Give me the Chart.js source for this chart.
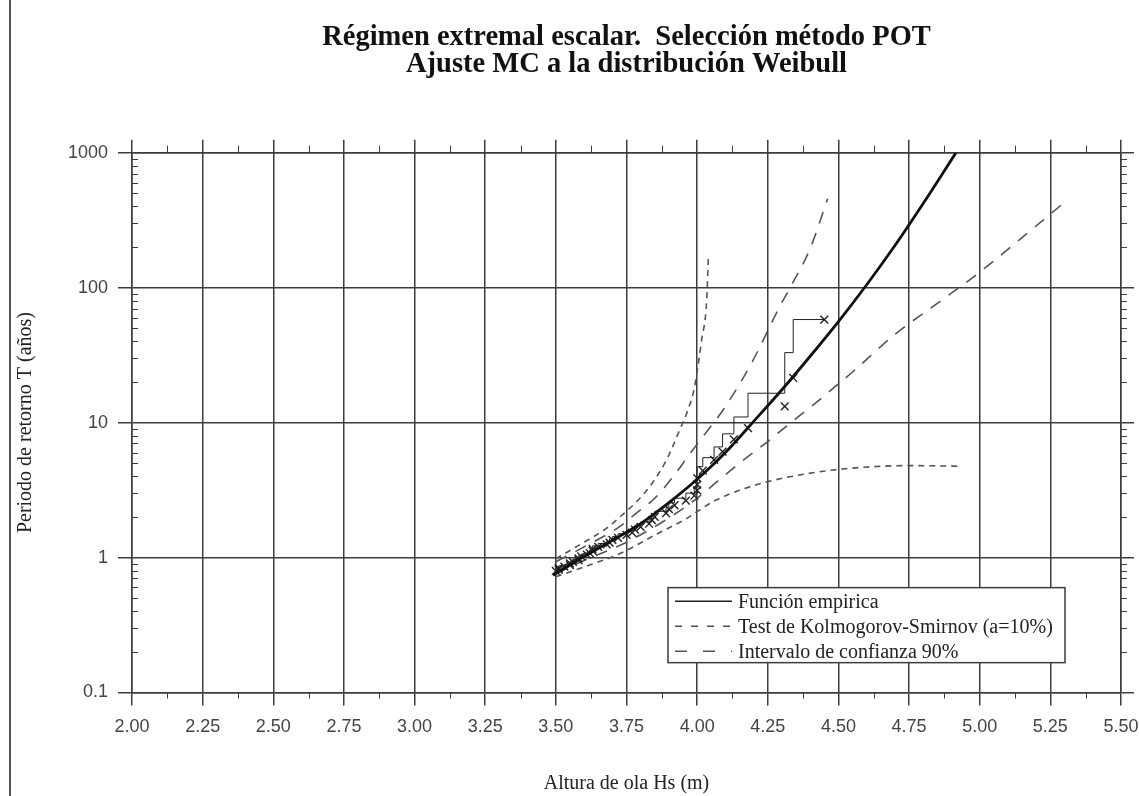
<!DOCTYPE html>
<html>
<head>
<meta charset="utf-8">
<script src="https://cdn.jsdelivr.net/npm/chart.js@4.4.1/dist/chart.umd.min.js"></script>
<style>
  html, body { margin: 0; padding: 0; background: #fff; }
  #wrap { position: relative; width: 1139px; height: 796px; }
  #edge { position: absolute; left: 9px; top: 0; width: 2px; height: 796px; background: #555; }
</style>
</head>
<body>
<div id="wrap">
  <canvas id="chart" width="1139" height="796"></canvas>
  <div id="edge"></div>
</div>
<script>
// Textos
const title1 = 'Régimen extremal escalar.  Selección método POT';
const title2 = 'Ajuste MC a la distribución Weibull';
const xTitle = 'Altura de ola Hs (m)';
const yTitle = 'Periodo de retorno T (años)';
const legendLabels = ['Función empirica', 'Test de Kolmogorov-Smirnov (a=10%)', 'Intervalo de confianza 90%'];

// Eje Y (logaritmico)
const yTicks = [0.1, 1, 10, 100, 1000];
const yTickLabels = ['0.1', '1', '10', '100', '1000'];

// Ajuste Weibull (curva gruesa)
const fitHs = [3.49, 3.55, 3.60, 3.70, 3.75, 3.80, 3.90, 4.00, 4.10, 4.20, 4.30, 4.40, 4.50, 4.60, 4.70, 4.80, 4.916];
const fitT  = [0.74, 0.88, 1.02, 1.34, 1.54, 1.78, 2.55, 3.8, 6.0, 10.2, 17.5, 31, 56, 105, 205, 420, 1000];

// Datos POT (cruces)
const sampleHs = [3.50, 3.51, 3.51, 3.53, 3.55, 3.55, 3.56, 3.58, 3.58, 3.59,
                  3.61, 3.62, 3.63, 3.63, 3.65, 3.68, 3.69, 3.70, 3.72, 3.75,
                  3.77, 3.78, 3.80, 3.83, 3.84, 3.85, 3.89, 3.90, 3.92, 3.96,
                  3.99, 4.00, 4.00, 4.00, 4.02, 4.06, 4.09, 4.13, 4.18, 4.31,
                  4.34, 4.45];
const sampleT  = [0.795, 0.815, 0.835, 0.857, 0.88, 0.904, 0.93, 0.957, 0.985, 1.02,
                  1.05, 1.08, 1.12, 1.16, 1.20, 1.25, 1.29, 1.35, 1.40, 1.47,
                  1.53, 1.61, 1.69, 1.78, 1.89, 2.0, 2.13, 2.28, 2.44, 2.64,
                  2.87, 3.14, 3.47, 3.88, 4.4, 5.3, 6.1, 7.5, 9.1, 13.2,
                  21.4, 58];

// Funcion empirica (escalones)
const stepStartHs = [3.50];
const stepT = [0.786, 0.805, 0.825, 0.846, 0.868, 0.892, 0.917, 0.94, 0.97, 1.0, 1.03,
               1.06, 1.1, 1.14, 1.18, 1.22, 1.27, 1.32, 1.38, 1.43, 1.5,
               1.57, 1.65, 1.74, 1.83, 1.94, 2.06, 2.2, 2.36, 2.54, 2.75,
               3.0, 3.3, 3.67, 4.13, 4.71, 5.5, 6.6, 8.25, 11, 16.5,
               33, 58];

// Bandas Kolmogorov-Smirnov
const ksUpHs = [3.50, 3.60, 3.68, 3.727, 3.798, 3.845, 3.892, 3.939, 3.968, 3.99, 4.016, 4.034, 4.040];
const ksUpT  = [0.98, 1.3, 1.65, 2.0, 2.76, 3.66, 5.3, 8.9, 12.5, 18, 41, 82, 176];
const ksLoHs = [3.50, 3.585, 3.727, 3.851, 3.963, 4.057, 4.15, 4.25, 4.41, 4.55, 4.75, 4.93];
const ksLoT  = [0.72, 0.83, 1.07, 1.47, 1.95, 2.6, 3.15, 3.65, 4.25, 4.6, 4.8, 4.75];

// Intervalo de confianza 90%
const ciUpHs = [3.50, 3.60, 3.727, 3.786, 3.851, 3.916, 3.975, 4.04, 4.093, 4.193, 4.293, 4.329, 4.40, 4.462];
const ciUpT  = [0.93, 1.2, 1.7, 2.14, 2.76, 4.0, 5.9, 8.9, 12.5, 27.7, 73, 100, 195, 456];
const ciLoHs = [3.50, 3.60, 3.75, 3.88, 4.00, 4.093, 4.175, 4.252, 4.329, 4.411, 4.482, 4.553, 4.70, 4.87, 5.00, 5.15, 5.305];
const ciLoT  = [0.76, 0.95, 1.3, 1.85, 2.75, 4.0, 5.5, 7.3, 9.9, 13.5, 18, 24, 45, 82, 130, 235, 437];

const toPoints = (xs, ys) => xs.map((x, i) => ({ x: x, y: ys[i] }));

const axisColor = '#3c3c3c';
const shortDash = [6, 5];
const longDash = [12, 10];

const decorPlugin = {
  id: 'decor',
  afterDraw(chart) {
    const ctx = chart.ctx;
    const a = chart.chartArea;
    const sx = chart.scales.x;
    const sy = chart.scales.y;
    ctx.save();
    ctx.strokeStyle = axisColor;
    ctx.lineWidth = 1;
    ctx.beginPath();
    // marcas menores del eje logaritmico
    for (let d = 0.1; d < 1000; d *= 10) {
      for (let k = 2; k < 10; k++) {
        const y = Math.round(sy.getPixelForValue(k * d)) + 0.5;
        ctx.moveTo(a.left, y); ctx.lineTo(a.left + 6, y);
        ctx.moveTo(a.right, y); ctx.lineTo(a.right + 6, y);
      }
    }
    // marcas menores del eje x
    for (let v = 2.125; v < 5.5; v += 0.25) {
      const x = Math.round(sx.getPixelForValue(v)) + 0.5;
      ctx.moveTo(x, a.bottom); ctx.lineTo(x, a.bottom + 6);
      ctx.moveTo(x, a.top); ctx.lineTo(x, a.top - 7);
    }
    ctx.stroke();

    // leyenda
    const x0 = a.left + 536, y0 = a.top + 435, w = 397, h = 75;
    ctx.fillStyle = '#fff';
    ctx.fillRect(x0, y0, w, h);
    ctx.strokeStyle = axisColor;
    ctx.lineWidth = 1.5;
    ctx.strokeRect(x0, y0, w, h);
    const dashes = [[], [7, 9], [12, 16]];
    ctx.font = '20px "Liberation Serif"';
    ctx.textBaseline = 'middle';
    ctx.fillStyle = '#222';
    legendLabels.forEach(function (txt, i) {
      const y = y0 + 13.7 + i * 25;
      ctx.beginPath();
      ctx.setLineDash(dashes[i]);
      ctx.strokeStyle = i === 0 ? '#222' : '#555';
      ctx.lineWidth = 1.5;
      ctx.moveTo(x0 + 7, y); ctx.lineTo(x0 + 64, y);
      ctx.stroke();
      ctx.setLineDash([]);
      ctx.fillText(txt, x0 + 70, y + 1);
    });
    ctx.restore();
  }
};

const lineBase = { showLine: true, pointRadius: 0, pointHoverRadius: 0, cubicInterpolationMode: 'monotone' };

const chart = new Chart(document.getElementById('chart'), {
  type: 'scatter',
  data: {
    datasets: [
      Object.assign({}, lineBase, { label: 'Ajuste Weibull', data: toPoints(fitHs, fitT), borderColor: '#111', borderWidth: 2.8 }),
      { label: 'Función empirica', data: toPoints(stepStartHs.concat(sampleHs), stepT), showLine: true, stepped: 'after',
        borderColor: '#222', borderWidth: 1, pointRadius: 0, pointHoverRadius: 0 },
      { label: 'Datos', data: toPoints(sampleHs, sampleT), showLine: false, pointStyle: 'crossRot', pointRadius: 5.5,
        borderColor: '#222', backgroundColor: '#222', borderWidth: 1.4 },
      Object.assign({}, lineBase, { label: 'K-S sup', data: toPoints(ksUpHs, ksUpT), borderColor: '#555', borderWidth: 1.6, borderDash: shortDash }),
      Object.assign({}, lineBase, { label: 'K-S inf', data: toPoints(ksLoHs, ksLoT), borderColor: '#555', borderWidth: 1.6, borderDash: shortDash }),
      Object.assign({}, lineBase, { label: 'IC sup', data: toPoints(ciUpHs, ciUpT), borderColor: '#555', borderWidth: 1.6, borderDash: longDash }),
      Object.assign({}, lineBase, { label: 'IC inf', data: toPoints(ciLoHs, ciLoT), borderColor: '#555', borderWidth: 1.6, borderDash: longDash })
    ]
  },
  options: {
    responsive: false,
    animation: false,
    layout: { padding: { left: 14, top: 8, right: 0, bottom: 0 } },
    plugins: {
      legend: { display: false },
      tooltip: { enabled: false },
      title: {
        display: true,
        fullSize: false,
        text: [title1, title2],
        color: '#111',
        font: { family: 'Liberation Serif', size: 28.5, weight: 'bold', lineHeight: 0.95 },
        padding: { top: 16, bottom: 61.5 }
      }
    },
    scales: {
      x: {
        type: 'linear', position: 'bottom', min: 2, max: 5.5,
        ticks: {
          stepSize: 0.25, autoSkip: false, maxRotation: 0, padding: 11,
          color: '#444', font: { family: 'Liberation Sans', size: 18 },
          callback: function (v) { return Number(v).toFixed(2); }
        },
        grid: { color: axisColor, lineWidth: 1.5, tickLength: 13, tickColor: axisColor },
        border: { color: axisColor, width: 1.5 },
        title: { display: true, text: xTitle, color: '#222', font: { family: 'Liberation Serif', size: 20 }, padding: 0 },
        afterFit: function (s) { s.height = 103.5; s.paddingLeft = 0; s.paddingRight = 0; }
      },
      x2: {
        type: 'linear', position: 'top', min: 2, max: 5.5,
        ticks: { stepSize: 0.25, display: false },
        grid: { drawOnChartArea: false, color: axisColor, lineWidth: 1.5, tickLength: 13 },
        border: { color: axisColor, width: 1.5 },
        afterFit: function (s) { s.height = 13; s.paddingLeft = 0; s.paddingRight = 0; }
      },
      y: {
        type: 'logarithmic', position: 'left', min: 0.1, max: 1000,
        afterBuildTicks: function (s) { s.ticks = yTicks.map(function (v) { return { value: v }; }); },
        ticks: {
          padding: 10, color: '#444', font: { family: 'Liberation Sans', size: 18 },
          callback: function (v, i) { return yTickLabels[i]; }
        },
        grid: { color: axisColor, lineWidth: 1.5, tickLength: 14, tickColor: axisColor },
        border: { color: axisColor, width: 1.5 },
        title: { display: true, text: yTitle, color: '#222', font: { family: 'Liberation Serif', size: 20 }, padding: 0 },
        afterFit: function (s) { s.width = 118; s.paddingTop = 0; s.paddingBottom = 0; }
      },
      y2: {
        type: 'logarithmic', position: 'right', min: 0.1, max: 1000,
        afterBuildTicks: function (s) { s.ticks = yTicks.map(function (v) { return { value: v }; }); },
        ticks: { display: false },
        grid: { drawOnChartArea: false, color: axisColor, lineWidth: 1.5, tickLength: 13 },
        border: { color: axisColor, width: 1.5 },
        afterFit: function (s) { s.width = 18; s.paddingTop = 0; s.paddingBottom = 0; }
      }
    }
  },
  plugins: [decorPlugin]
});
</script>
</body>
</html>
